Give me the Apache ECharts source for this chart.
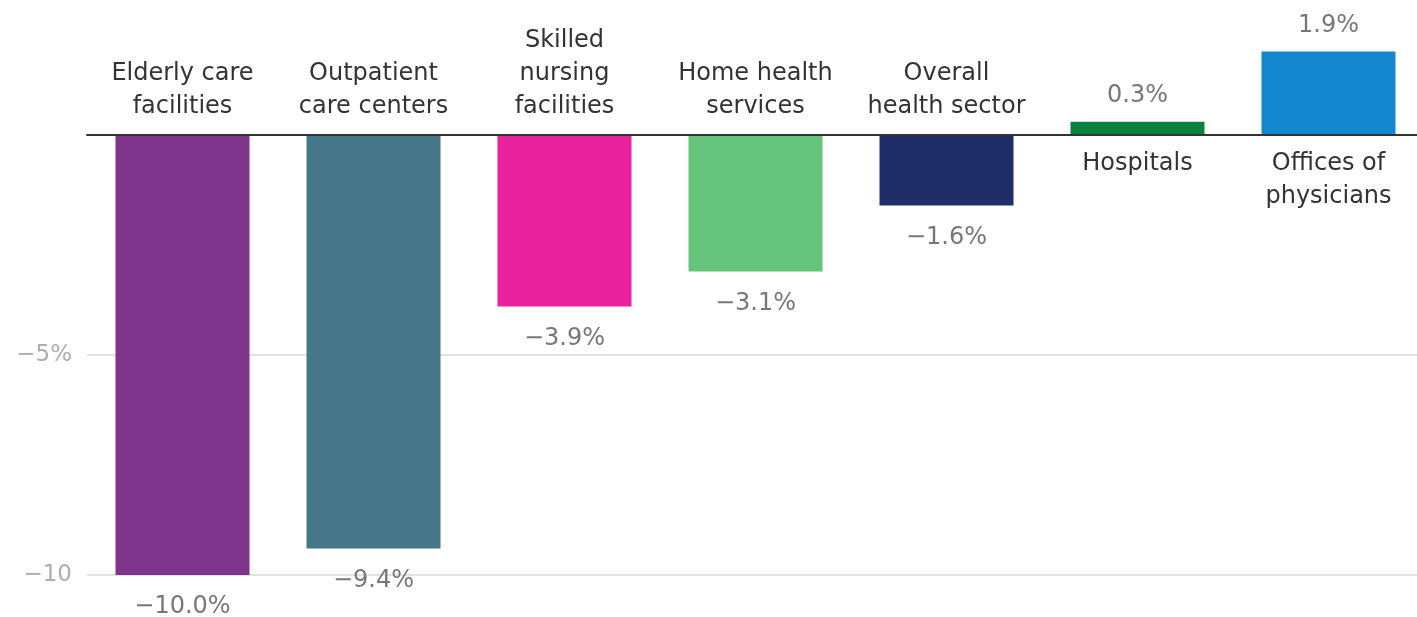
<!DOCTYPE html>
<html><head><meta charset="utf-8">
<script src="https://cdn.jsdelivr.net/npm/echarts@6/dist/echarts.min.js"></script>
<style>html,body{margin:0;padding:0;background:#fff}#c{width:1417px;height:617px}</style>
</head><body><div id="c"></div>
<script>
const categories = ["Elderly care\nfacilities","Outpatient\ncare centers","Skilled\nnursing\nfacilities","Home health\nservices","Overall\nhealth sector","Hospitals","Offices of\nphysicians"];
const values = [-10.0, -9.4, -3.9, -3.1, -1.6, 0.3, 1.9];
const colors = ["#7e348a","#467789","#e9239d","#64c47c","#1f2e68","#0b813f","#1488cf"];
const yTickLabels = {"-5":"−5%","-10":"−10"};

const fmt = v => (v < 0 ? "−" : "") + Math.abs(v).toFixed(1) + "%";
const FONT = "DejaVu Sans";
const GRID_LEFT = 87, STEP = 191, W = 1417;

const mainData = values.map((v,i)=>({
  value:[i, v],
  itemStyle:{color:colors[i]},
  label:{position: v<0 ? 'bottom':'top', distance: v<0 ? 20 : 14}
}));
const nameData = categories.map((c,i)=>({
  value:[i, 0],
  label:{position: values[i]<0 ? 'top':'bottom', formatter: c}
}));

const chart = echarts.init(document.getElementById('c'));
chart.setOption({
  animation:false,
  grid:{left:GRID_LEFT, right:0, top:135, bottom:42, containLabel:false},
  xAxis:{type:'value', min:-0.5, max:-0.5 + (W-GRID_LEFT)/STEP,
    axisLine:{onZero:true, lineStyle:{color:'#333', width:2}},
    splitLine:{show:false},
    axisTick:{show:false}, axisLabel:{show:false}, z:5},
  yAxis:{type:'value', min:-10, max:0, interval:5,
    axisLine:{show:false}, axisTick:{show:false},
    splitLine:{lineStyle:{color:'#e2e2e2', width:2}},
    axisLabel:{margin:15, color:'#adadad', fontSize:23, fontFamily:FONT,
      formatter:v=> yTickLabels[String(v)] || ''}},
  series:[
    {type:'bar', data:mainData, barWidth:134, barGap:'-100%', clip:false,
      label:{show:true, color:'#777', fontSize:24, fontFamily:FONT,
        formatter:p=>fmt(p.value[1])}},
    {type:'bar', data:nameData, barWidth:134, barGap:'-100%', clip:false, itemStyle:{color:'transparent'},
      label:{show:true, distance:12, color:'#333', fontSize:24, lineHeight:33, fontFamily:FONT}}
  ]
});
</script></body></html>
